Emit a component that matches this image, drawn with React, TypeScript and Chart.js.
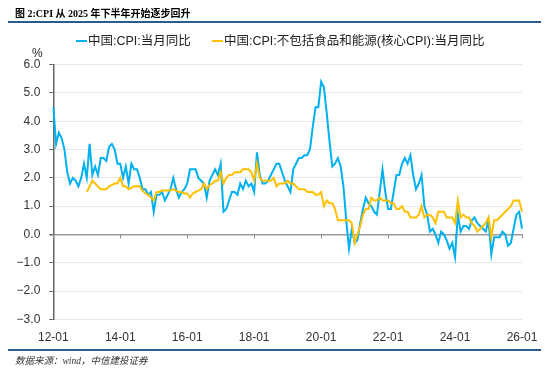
import React, { useEffect, useRef } from 'react';
import { Chart, registerables } from 'chart.js';

Chart.register(...registerables);

// Monthly categories 2012-01 .. 2026-01
const YEARS: number[] = [12, 13, 14, 15, 16, 17, 18, 19, 20, 21, 22, 23, 24, 25, 26];
const MONTHS: string[] = ['01', '02', '03', '04', '05', '06', '07', '08', '09', '10', '11', '12'];
const CATEGORIES: string[] = [];
YEARS.forEach((y) => {
  MONTHS.forEach((m) => {
    if (y === 26 && m !== '01') return;
    CATEGORIES.push(`${y}-${m}`);
  });
});

const X_TICK_LABELS: string[] = ['12-01', '14-01', '16-01', '18-01', '20-01', '22-01', '24-01', '26-01'];
const Y_TICKS: number[] = [-3, -2, -1, 0, 1, 2, 3, 4, 5, 6];

const SERIES_NAMES: string[] = ['中国:CPI:当月同比', '中国:CPI:不包括食品和能源(核心CPI):当月同比'];

// 中国:CPI:当月同比 (2012-01 .. 2026-01)
const CPI_YOY: number[] = [
  4.5, 3.2, 3.6, 3.4, 3.0, 2.2, 1.8, 2.0, 1.9, 1.7, 2.0, 2.5,
  2.0, 3.2, 2.1, 2.4, 2.1, 2.7, 2.7, 2.6, 3.1, 3.2, 3.0, 2.5,
  2.5, 2.0, 2.4, 1.8, 2.5, 2.3, 2.3, 2.0, 1.6, 1.6, 1.4, 1.5,
  0.8, 1.4, 1.4, 1.5, 1.2, 1.4, 1.6, 2.0, 1.6, 1.3, 1.5, 1.6,
  1.8, 2.3, 2.3, 2.3, 2.0, 1.9, 1.8, 1.3, 1.9, 2.1, 2.3, 2.1,
  2.5, 0.8, 0.9, 1.2, 1.5, 1.5, 1.4, 1.8, 1.6, 1.9, 1.7, 1.8,
  1.5, 2.9, 2.1, 1.8, 1.8, 1.9, 2.1, 2.3, 2.5, 2.5, 2.2, 1.9,
  1.7, 1.5, 2.3, 2.5, 2.7, 2.7, 2.8, 2.8, 3.0, 3.8, 4.5, 4.5,
  5.4, 5.2, 4.3, 3.3, 2.4, 2.5, 2.7, 2.4, 1.7, 0.5, -0.5, 0.2,
  -0.3, -0.2, 0.4, 0.9, 1.3, 1.1, 1.0, 0.8, 0.7, 1.5, 2.3, 1.5,
  0.9, 0.9, 1.5, 2.1, 2.1, 2.5, 2.7, 2.5, 2.8, 2.1, 1.6, 1.8,
  2.1, 1.0, 0.7, 0.1, 0.2, 0.0, -0.3, 0.1, 0.0, -0.2, -0.5, -0.3,
  -0.8, 0.7, 0.1, 0.3, 0.3, 0.2, 0.5, 0.6, 0.4, 0.3, 0.2, 0.1,
  0.5, -0.7, -0.1, -0.1, -0.1, 0.1, 0.0, -0.4, -0.3, 0.2, 0.7, 0.8,
  0.2,
];

// 中国:CPI:不包括食品和能源(核心CPI):当月同比 (starts 2013-01)
const CORE_CPI_YOY: (number | null)[] = [
  null, null, null, null, null, null, null, null, null, null, null, null,
  1.5, 1.7, 1.9, 1.8, 1.7, 1.6, 1.6, 1.6, 1.7, 1.75, 1.8, 1.8,
  2.0, 1.7, 1.7, 1.6, 1.65, 1.7, 1.7, 1.7, 1.55, 1.45, 1.4, 1.3,
  1.2, 1.5, 1.5, 1.55, 1.55, 1.55, 1.55, 1.6, 1.55, 1.5, 1.5, 1.45,
  1.45, 1.3, 1.45, 1.5, 1.55, 1.6, 1.8, 1.6, 1.75, 1.8, 1.9, 1.9,
  2.2, 1.8, 2.0, 2.1, 2.1, 2.2, 2.2, 2.2, 2.3, 2.3, 2.3, 2.2,
  1.9, 2.5, 2.0, 1.9, 1.9, 1.9, 1.9, 2.0, 1.7, 1.8, 1.8, 1.8,
  1.9, 1.8, 1.8, 1.7, 1.6, 1.6, 1.6, 1.5, 1.5, 1.5, 1.4, 1.4,
  1.5, 1.0, 1.2, 1.1, 1.1, 0.9, 0.5, 0.5, 0.5, 0.5, 0.5, 0.4,
  -0.3, 0.0, 0.3, 0.7, 0.9, 0.9, 1.3, 1.2, 1.2, 1.3, 1.2, 1.2,
  1.2, 1.1, 1.1, 0.9, 0.9, 1.0, 0.8, 0.8, 0.6, 0.6, 0.6, 0.7,
  1.0, 0.6, 0.7, 0.7, 0.6, 0.4, 0.8, 0.8, 0.8, 0.6, 0.6, 0.6,
  0.4, 1.2, 0.6, 0.7, 0.6, 0.6, 0.4, 0.3, 0.1, 0.2, 0.3, 0.4,
  0.6, -0.1, 0.5, 0.5, 0.6, 0.7, 0.8, 0.9, 1.0, 1.2, 1.2, 1.2,
  0.8,
];

const BLUE = '#00B0F0';
const ORANGE = '#FFC000';
const SANS = "'Liberation Sans', 'Noto Sans CJK SC', sans-serif";
const SERIF = "'Liberation Serif', 'Noto Sans CJK SC', serif";

const zeroAxisTicks = {
  id: 'zeroAxisTicks',
  beforeDatasetsDraw(chart: any) {
    const { ctx } = chart;
    const xs = chart.scales.x;
    const ys = chart.scales.y;
    const y0 = ys.getPixelForValue(0);
    ctx.save();
    ctx.strokeStyle = '#8c8c8c';
    ctx.lineWidth = 1;
    CATEGORIES.forEach((c, i) => {
      if (X_TICK_LABELS.includes(c)) {
        const px = Math.round(xs.getPixelForValue(i)) + 0.5;
        ctx.beginPath();
        ctx.moveTo(px, y0);
        ctx.lineTo(px, y0 + 4);
        ctx.stroke();
      }
    });
    ctx.restore();
  },
};

export default function App() {
  const canvasRef = useRef<HTMLCanvasElement | null>(null);

  useEffect(() => {
    const canvas = canvasRef.current;
    if (!canvas) return;
    const chart = new Chart(canvas, {
      type: 'line',
      data: {
        labels: CATEGORIES,
        datasets: [
          {
            label: SERIES_NAMES[0],
            data: CPI_YOY,
            borderColor: BLUE,
            backgroundColor: BLUE,
            borderWidth: 2,
            pointRadius: 0,
            tension: 0,
            order: 1,
          },
          {
            label: SERIES_NAMES[1],
            data: CORE_CPI_YOY,
            borderColor: ORANGE,
            backgroundColor: ORANGE,
            borderWidth: 2,
            pointRadius: 0,
            tension: 0,
            order: 0,
          },
        ],
      },
      options: {
        responsive: false,
        animation: false,
        devicePixelRatio: 1,
        layout: { padding: { left: 8.3, right: 28, top: 64.7, bottom: 26.7 } },
        plugins: {
          legend: { display: false },
          tooltip: { enabled: false },
        },
        scales: {
          x: {
            type: 'category',
            offset: false,
            grid: { display: false, drawTicks: false },
            border: { display: false },
            ticks: {
              autoSkip: false,
              maxRotation: 0,
              minRotation: 0,
              padding: 11,
              color: '#333',
              font: { family: SANS, size: 12 },
              callback: (_v: any, index: number) => {
                const c = CATEGORIES[index];
                return X_TICK_LABELS.includes(c) ? c : null;
              },
            },
            afterFit: (s: any) => {
              s.height = 30;
            },
          },
          y: {
            min: Y_TICKS[0],
            max: Y_TICKS[Y_TICKS.length - 1],
            afterBuildTicks: (s: any) => {
              s.ticks = Y_TICKS.map((v) => ({ value: v }));
            },
            ticks: {
              padding: 9,
              color: '#333',
              font: { family: SANS, size: 12 },
              callback: (v: any) => {
                const n = Number(v);
                return (n < 0 ? '\u2212' : '') + Math.abs(n).toFixed(1);
              },
            },
            grid: {
              color: (ctx: any) => (ctx.tick && ctx.tick.value === 0 ? '#9a9a9a' : '#e8e8e8'),
              lineWidth: (ctx: any) => (ctx.tick && ctx.tick.value === 0 ? 1.5 : 1),
              tickLength: 4,
              tickColor: '#666',
              drawTicks: true,
            },
            border: { display: true, color: '#666', width: 1.5 },
            afterFit: (s: any) => {
              s.width = 45;
            },
          },
        },
      },
      plugins: [zeroAxisTicks],
    });
    return () => chart.destroy();
  }, []);

  const abs = (style: React.CSSProperties): React.CSSProperties => ({ position: 'absolute', whiteSpace: 'nowrap', ...style });

  return (
    <div style={{ position: 'fixed', left: 0, top: 0, width: 550, height: 376, background: '#fff', overflow: 'hidden' }}>
      <canvas ref={canvasRef} width={550} height={376} style={{ position: 'absolute', left: 0, top: 0, width: 550, height: 376 }} />
      <div style={abs({ left: 15, top: 7, fontFamily: SERIF, fontWeight: 'bold', fontSize: 10, lineHeight: '14px', color: '#000' })}>
        图 2:CPI 从 2025 年下半年开始逐步回升
      </div>
      <div style={abs({ left: 8, top: 21, width: 533, height: 2, background: '#2b5b8b' })} />
      <div style={abs({ left: 76, top: 40, width: 11, height: 2, background: BLUE })} />
      <div style={abs({ left: 88, top: 33, fontFamily: SANS, fontSize: 12.5, lineHeight: '16px', color: '#222' })}>
        {SERIES_NAMES[0]}
      </div>
      <div style={abs({ left: 212, top: 40, width: 11, height: 2, background: ORANGE })} />
      <div style={abs({ left: 224, top: 33, fontFamily: SANS, fontSize: 12.5, lineHeight: '16px', color: '#222' })}>
        {SERIES_NAMES[1]}
      </div>
      <div style={abs({ left: 32, top: 45, fontFamily: SANS, fontSize: 12, lineHeight: '16px', color: '#222' })}>%</div>
      <div style={abs({ left: 8, top: 349, width: 533, height: 1.5, background: '#2b5b8b' })} />
      <div style={abs({ left: 15, top: 355, fontFamily: SERIF, fontStyle: 'italic', fontSize: 9.5, lineHeight: '13px', color: '#333' })}>
        数据来源：wind，中信建投证券
      </div>
    </div>
  );
}
